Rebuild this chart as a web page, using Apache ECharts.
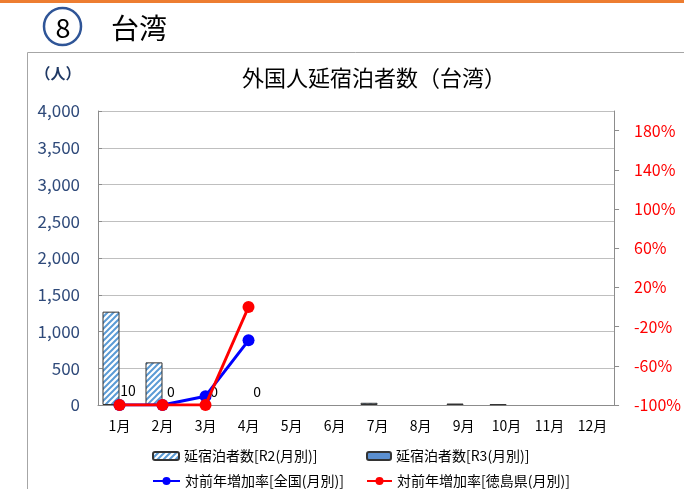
<!DOCTYPE html>
<html><head><meta charset="utf-8">
<script src="https://cdn.jsdelivr.net/npm/echarts@6/dist/echarts.min.js"></script>
<style>html,body{margin:0;padding:0;background:#fff}#c{width:684px;height:489px}</style>
</head><body><div id="c"></div>
<script>
const months = ['1月','2月','3月','4月','5月','6月','7月','8月','9月','10月','11月','12月'];
const r2Stays = [1270, 580, 0, 0, 0, 0, 30, 0, 20, 10, 0, 0];
const r3Stays = [10, 0, 0, 0, null, null, null, null, null, null, null, null];
const rateNational = [-100, -100, -91, -34, null, null, null, null, null, null, null, null];
const rateTokushima = [-100, -100, -100, 0, null, null, null, null, null, null, null, null];
const leftTicks = [0, 500, 1000, 1500, 2000, 2500, 3000, 3500, 4000];
const rightTicks = [-100, -60, -20, 20, 60, 100, 140, 180];

const FONT = '"Noto Sans CJK JP", "Noto Sans", sans-serif';

function hatch() {
  const c = document.createElement('canvas');
  c.width = 6; c.height = 6;
  const g = c.getContext('2d');
  g.fillStyle = '#ffffff'; g.fillRect(0, 0, 6, 6);
  g.strokeStyle = '#5B9BD5'; g.lineWidth = 2;
  g.beginPath();
  g.moveTo(-1, 7); g.lineTo(7, -1);
  g.moveTo(-4, 4); g.lineTo(4, -4);
  g.moveTo(2, 10); g.lineTo(10, 2);
  g.stroke();
  return c;
}
// zero-height bars get no outline so that they stay invisible
const noZeroBox = arr => arr.map(v => v === 0 ? {value: 0, itemStyle: {borderWidth: 0}} : v);

const chart = echarts.init(document.getElementById('c'), null, {renderer: 'canvas'});
const legendText = {fontFamily: FONT, fontSize: 14, lineHeight: 16, color: '#000'};
chart.setOption({
  animation: false,
  textStyle: {fontFamily: FONT},
  title: {
    text: '外国人延宿泊者数（台湾）', left: 369, top: 62, textAlign: 'center',
    textStyle: {fontFamily: FONT, fontSize: 22, fontWeight: 'normal', color: '#000'}
  },
  graphic: [
    {type: 'rect', shape: {x: 0, y: 0, width: 684, height: 3}, style: {fill: '#ED7D31'}},
    {type: 'circle', shape: {cx: 62.5, cy: 26.5, r: 18.5}, style: {fill: 'none', stroke: '#2F5597', lineWidth: 2.5}},
    {type: 'text', x: 63, y: 28, style: {text: '8', fontSize: 27, fontFamily: FONT, fill: '#000', align: 'center', verticalAlign: 'middle'}},
    {type: 'text', x: 111, y: 28, style: {text: '台湾', fontSize: 28, fontFamily: FONT, fill: '#000', verticalAlign: 'middle'}},
    {type: 'polyline', shape: {points: [[27.5, 489], [27.5, 52.5], [684, 52.5]]}, style: {fill: 'none', stroke: '#A6A6A6', lineWidth: 1}},
    {type: 'text', x: 58, y: 73, style: {text: '（人）', fontSize: 15, fontFamily: FONT, fontWeight: 'bold', fill: '#1F3864', align: 'center', verticalAlign: 'middle'}}
  ],
  legend: [
    {data: ['延宿泊者数[R2(月別)]'], left: 152, top: 448, padding: 0, itemWidth: 26, itemHeight: 8, textStyle: legendText},
    {data: ['延宿泊者数[R3(月別)]'], left: 366, top: 448, padding: 0, itemWidth: 24, itemHeight: 8, textStyle: legendText},
    {data: ['対前年増加率[全国(月別)]'], left: 152, top: 473, padding: 0, itemWidth: 27, itemHeight: 10, textStyle: legendText},
    {data: ['対前年増加率[徳島県(月別)]'], left: 366, top: 473, padding: 0, itemWidth: 25, itemHeight: 10, textStyle: legendText}
  ],
  grid: {left: 98, right: 64, top: 111, bottom: 84, containLabel: false},
  xAxis: {
    type: 'category', data: months,
    axisLine: {lineStyle: {color: '#8C8C8C'}},
    axisTick: {show: false},
    axisLabel: {color: '#000', fontSize: 14, margin: 14, fontFamily: FONT}
  },
  yAxis: [
    {
      type: 'value', min: 0, max: 4000, interval: 500, position: 'left',
      axisLine: {show: true, lineStyle: {color: '#8C8C8C'}},
      axisTick: {show: true, inside: true, length: 4, lineStyle: {color: '#8C8C8C'}},
      splitLine: {lineStyle: {color: '#BFBFBF'}},
      axisLabel: {color: '#2F4A7A', fontSize: 17, margin: 18, fontFamily: FONT,
        formatter: v => leftTicks.includes(v) ? v.toLocaleString('en-US') : ''}
    },
    {
      type: 'value', min: -100, max: 200, interval: 40, position: 'right',
      axisLine: {show: true, lineStyle: {color: '#8C8C8C'}},
      axisTick: {show: true, length: 5, lineStyle: {color: '#8C8C8C'}},
      splitLine: {show: false},
      axisLabel: {color: '#FF0000', fontSize: 16, margin: 20, fontFamily: FONT, showMaxLabel: false,
        formatter: v => rightTicks.includes(v) ? v + '%' : ''}
    }
  ],
  series: [
    {
      name: '延宿泊者数[R2(月別)]', type: 'bar', data: noZeroBox(r2Stays), barWidth: 17, barGap: '0%',
      itemStyle: {color: {image: hatch(), repeat: 'repeat'}, borderColor: '#333', borderWidth: 1}
    },
    {
      name: '延宿泊者数[R3(月別)]', type: 'bar', data: noZeroBox(r3Stays), barWidth: 17,
      itemStyle: {color: '#5B8FD0', borderColor: '#333', borderWidth: 1},
      label: {show: true, position: 'top', distance: 6, color: '#000', fontSize: 14, fontFamily: FONT}
    },
    {
      name: '対前年増加率[全国(月別)]', type: 'line', yAxisIndex: 1, data: rateNational,
      symbol: 'circle', symbolSize: 12, lineStyle: {color: '#0000FF', width: 3},
      itemStyle: {color: '#0000FF'}, z: 3
    },
    {
      name: '対前年増加率[徳島県(月別)]', type: 'line', yAxisIndex: 1, data: rateTokushima,
      symbol: 'circle', symbolSize: 12, lineStyle: {color: '#FF0000', width: 3},
      itemStyle: {color: '#FF0000'}, z: 4
    }
  ]
});
</script></body></html>
